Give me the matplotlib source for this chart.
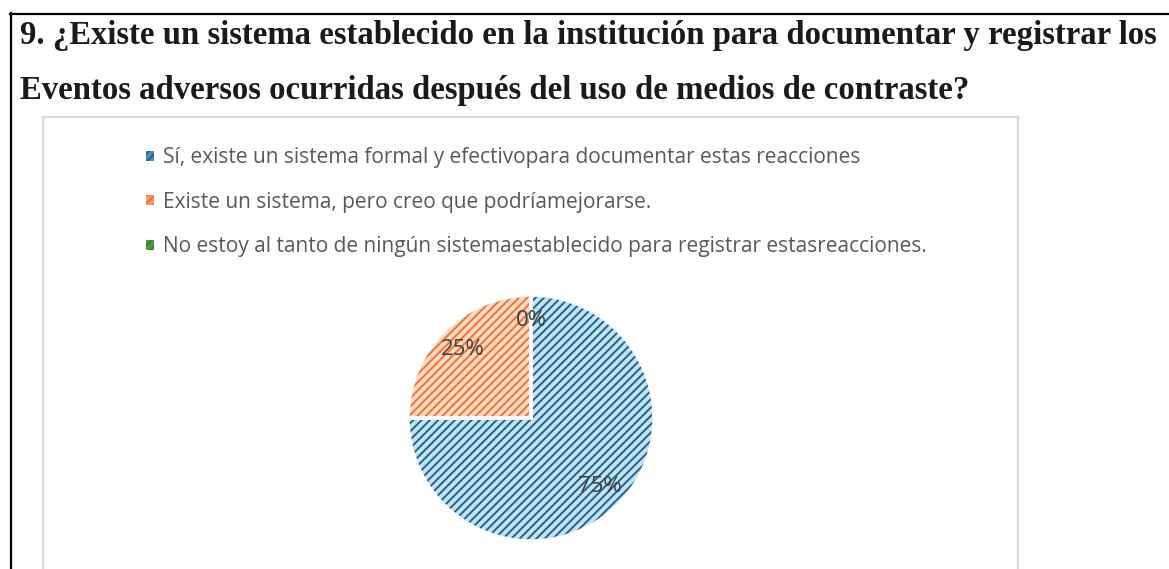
import matplotlib
matplotlib.use("Agg")
import matplotlib.pyplot as plt
from matplotlib.lines import Line2D
from matplotlib.patches import Patch

# survey answers
etiquetas = [
    "Sí, existe un sistema formal y efectivopara documentar estas reacciones",
    "Existe un sistema, pero creo que podríamejorarse.",
    "No estoy al tanto de ningún sistemaestablecido para registrar estasreacciones.",
]
porcentajes = [75, 25, 0]
relleno = ["#c3e3f3", "#fbd9c4", "#a9d18e"]
rayas = ["#1f6391", "#ee7530", "#3b7d2a"]
marcador = ["#4a8bb3", "#f29a68", "#4f9a3e"]

titulo1 = "9. ¿Existe un sistema establecido en la institución para documentar y registrar los"
titulo2 = "Eventos adversos ocurridas después del uso de medios de contraste?"

W, H = 1169, 569
plt.rcParams["hatch.linewidth"] = 1.4
fig = plt.figure(figsize=(W / 100, H / 100), dpi=100)

def px(x, y):
    # pixel (from top-left) -> figure fraction
    return x / W, 1 - y / H

# black frame of the question cell
fig.add_artist(Line2D([px(10, 0)[0], 1], [px(0, 14)[1]] * 2, color="black", lw=1.6))
fig.add_artist(Line2D([px(11, 0)[0]] * 2, [px(0, 13)[1], 0], color="black", lw=1.6))

# grey chart area border
gx0, gx1, gy = 43, 1018, 117
fig.add_artist(Line2D([px(gx0, 0)[0], px(gx1, 0)[0]], [px(0, gy)[1]] * 2, color="#d9d9d9", lw=1.5))
fig.add_artist(Line2D([px(gx0, 0)[0]] * 2, [px(0, gy)[1], 0], color="#d9d9d9", lw=1.5))
fig.add_artist(Line2D([px(gx1, 0)[0]] * 2, [px(0, gy)[1], 0], color="#d9d9d9", lw=1.5))

# title
fig.text(*px(20, 44), titulo1, family="Liberation Serif", weight="bold",
         fontsize=23.6, color="#1a1a1a", va="baseline", ha="left")
fig.text(*px(20, 99), titulo2, family="Liberation Serif", weight="bold",
         fontsize=23.6, color="#1a1a1a", va="baseline", ha="left")

# pie
cx, cy, r = 531, 418, 123
ax = fig.add_axes([(cx - r) / W, (H - cy - r) / H, 2 * r / W, 2 * r / H])
wedges, textos, pcts = ax.pie(
    porcentajes, startangle=90, counterclock=False, radius=1,
    autopct="%.0f%%", pctdistance=0.79,
    textprops=dict(family="Open Sans", fontsize=16, color="#404040"),
)
for w, f, s in zip(wedges, relleno, rayas):
    w.set_facecolor(f)
    w.set_edgecolor(s)
    w.set_hatch("////")
    w.set_linewidth(0)
# white separation between slices
bordes, _ = ax.pie(porcentajes, startangle=90, counterclock=False, radius=1,
                   wedgeprops=dict(facecolor="none", edgecolor="white", linewidth=2.5))
for b in bordes:
    b.set_zorder(1.5)
for t in pcts:
    t.set_zorder(3)
ax.set_xlim(-1, 1)
ax.set_ylim(-1, 1)
ax.set_aspect("equal")
ax.axis("off")

handles = [Patch(facecolor=m, edgecolor=s, hatch="////", linewidth=0)
           for m, s in zip(marcador, rayas)]
leg = fig.legend(
    handles, etiquetas, loc="upper left",
    bbox_to_anchor=px(136, 137), bbox_transform=fig.transFigure,
    frameon=False, handlelength=0.36, handleheight=0.36, handletextpad=0.45,
    labelspacing=1.13, borderpad=0,
    prop=dict(family="Open Sans", size=15),
)
for t in leg.get_texts():
    t.set_color("#595959")

fig.savefig("out.png", dpi=100)
